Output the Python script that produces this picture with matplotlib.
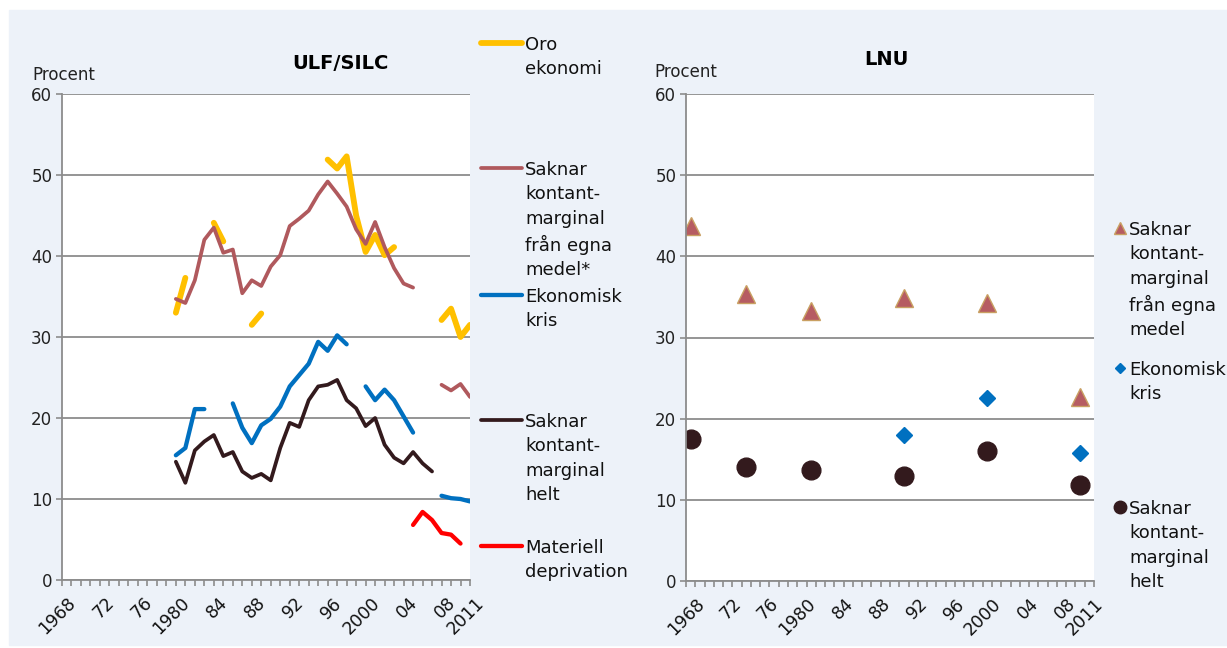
import numpy as np
import matplotlib
matplotlib.use("Agg")
import matplotlib.pyplot as plt
from matplotlib.lines import Line2D
from matplotlib.patches import Rectangle
from matplotlib.transforms import ScaledTranslation

W, H = 1227, 648
nan = np.nan

# ULF/SILC, yearly series 1980-2011 (gaps = no survey)
ulf_years = list(range(1980, 2012))
oro_ekonomi = [33.0, 37.3, nan, nan, 44.1, 41.8, nan, nan, 31.5, 32.9,
               nan, nan, nan, nan, nan, nan, 51.9, 50.8, 52.3, 45.0,
               40.5, 42.6, 40.1, 41.1, nan, nan, nan, nan, 32.1, 33.5,
               30.0, 31.5]
saknar_egna = [34.7, 34.2, 37.0, 42.0, 43.5, 40.4, 40.8, 35.4, 37.0, 36.3,
               38.7, 40.1, 43.7, 44.6, 45.6, 47.6, 49.2, 47.7, 46.1, 43.3,
               41.5, 44.2, 41.1, 38.5, 36.6, 36.1, nan, nan, 24.1, 23.4,
               24.2, 22.6]
ekonomisk_kris = [15.4, 16.3, 21.1, 21.1, nan, nan, 21.8, 18.8, 16.9, 19.1,
                  19.9, 21.4, 23.9, 25.3, 26.7, 29.4, 28.3, 30.2, 29.1, nan,
                  23.9, 22.2, 23.5, 22.2, 20.2, 18.2, nan, nan, 10.4, 10.1,
                  10.0, 9.7]
saknar_helt = [14.6, 12.0, 16.0, 17.1, 17.9, 15.3, 15.8, 13.4, 12.6, 13.1,
               12.3, 16.3, 19.4, 18.9, 22.2, 23.9, 24.1, 24.7, 22.2, 21.2,
               19.0, 20.0, 16.7, 15.1, 14.4, 15.8, 14.4, 13.4, nan, nan,
               nan, nan]
materiell = [nan, nan, nan, nan, nan, nan, nan, nan, nan, nan,
             nan, nan, nan, nan, nan, nan, nan, nan, nan, nan,
             nan, nan, nan, nan, nan, 6.8, 8.4, 7.4, 5.8, 5.6,
             4.5, nan]

# LNU survey years
lnu_years = [1968, 1974, 1981, 1991, 2000, 2010]
lnu_egna = [43.7, 35.3, 33.3, 34.9, 34.2, 22.7]
lnu_kris_years = [1991, 2000, 2010]
lnu_kris = [18.0, 22.5, 15.8]
lnu_helt = [17.5, 14.1, 13.7, 12.9, 16.0, 11.8]

label_years = [1968, 1972, 1976, 1980, 1984, 1988, 1992, 1996, 2000, 2004, 2008, 2011]
label_text = ["1968", "72", "76", "1980", "84", "88", "92", "96", "2000", "04", "08", "2011"]

YELLOW = "#FFC000"
ROSE = "#B0595D"
BLUE = "#0070C0"
DARK = "#331A1D"
RED = "#FF0000"
GRID = "#8C8C8C"
PANEL = "#EDF2F9"

plt.rcParams["font.family"] = ["DejaVu Sans"]


def fx(x):
    return x / W


def fy(y):
    return 1 - y / H


def style_axes(ax):
    ax.set_facecolor("white")
    ax.set_ylim(0, 60)
    ax.set_yticks(range(0, 61, 10))
    ax.yaxis.grid(True, color=GRID, linewidth=1.3)
    ax.set_axisbelow(True)
    for s in ["top", "right"]:
        ax.spines[s].set_visible(False)
    for s in ["left", "bottom"]:
        ax.spines[s].set_color(GRID)
        ax.spines[s].set_linewidth(1.3)
    ax.tick_params(axis="y", length=4, color=GRID, width=1.2, labelsize=12,
                   pad=3, labelcolor="#222222")
    ax.tick_params(axis="x", which="both", length=4, color=GRID, width=1.2,
                   labelsize=12.5, pad=6, labelcolor="#111111")


def rotate_labels(ax, dx):
    for lab in ax.get_xticklabels():
        lab.set_rotation(45)
        lab.set_ha("right")
        lab.set_va("top")
        lab.set_rotation_mode("anchor")
        lab.set_transform(lab.get_transform() +
                          ScaledTranslation(dx / 100, 0, fig.dpi_scale_trans))


fig = plt.figure(figsize=(W / 100, H / 100), dpi=100, facecolor="white")
fig.patches.append(Rectangle((fx(9), fy(645)), fx(W - 9), (645 - 10) / H,
                             transform=fig.transFigure, color=PANEL, zorder=-10))

# ---- left: ULF/SILC ----
ax1 = fig.add_axes([fx(62), fy(580), fx(408), 486 / H])
style_axes(ax1)
ax1.plot(ulf_years, oro_ekonomi, color=YELLOW, lw=4.2, solid_capstyle="round")
ax1.plot(ulf_years, saknar_egna, color=ROSE, lw=2.7, solid_capstyle="round")
ax1.plot(ulf_years, ekonomisk_kris, color=BLUE, lw=3.1, solid_capstyle="round")
ax1.plot(ulf_years, saknar_helt, color=DARK, lw=2.7, solid_capstyle="round")
ax1.plot(ulf_years, materiell, color=RED, lw=3.1, solid_capstyle="round")
ax1.set_xlim(1968, 2011)
ax1.set_xticks(range(1968, 2012), minor=True)
ax1.set_xticks(label_years)
ax1.set_xticklabels(label_text)
rotate_labels(ax1, 5)

fig.text(fx(340), fy(69), "ULF/SILC", ha="center", va="baseline",
         fontsize=14, fontweight="bold")
fig.text(fx(32), fy(80), "Procent", ha="left", va="baseline", fontsize=12,
         color="#222222")

# ---- right: LNU ----
ax2 = fig.add_axes([fx(686), fy(581), fx(408), 487 / H])
style_axes(ax2)
ax2.plot([y - 1968 for y in lnu_years], lnu_egna, ls="none", marker="^", ms=13.5,
         mfc="#B65C62", mec="#C9A062", mew=1.0)
ax2.plot([y - 1968 for y in lnu_kris_years], lnu_kris, ls="none", marker="D",
         ms=8.5, mfc=BLUE, mec=BLUE)
ax2.plot([y - 1968 for y in lnu_years], lnu_helt, ls="none", marker="o", ms=13.5,
         mfc=DARK, mec=DARK)
ax2.set_xlim(-0.5, 43.5)
ax2.set_xticks(np.arange(-0.5, 44, 1.0), minor=True)
ax2.set_xticks([y - 1968 for y in label_years])
ax2.set_xticklabels(label_text)
ax2.tick_params(axis="x", which="major", length=0, pad=10)
rotate_labels(ax2, 5)

fig.text(fx(886), fy(65), "LNU", ha="center", va="baseline",
         fontsize=14, fontweight="bold")
fig.text(fx(654), fy(77), "Procent", ha="left", va="baseline", fontsize=12,
         color="#222222")

# ---- legends ----
LEG_FS = 13
LEG_LS = 1.45

left_entries = [
    (YELLOW, 4.2, 43, "Oro\nekonomi"),
    (ROSE, 2.7, 168, "Saknar\nkontant-\nmarginal\nfrån egna\nmedel*"),
    (BLUE, 3.1, 295, "Ekonomisk\nkris"),
    (DARK, 2.7, 420, "Saknar\nkontant-\nmarginal\nhelt"),
    (RED, 3.1, 546, "Materiell\ndeprivation"),
]
for color, lw, y, label in left_entries:
    fig.add_artist(Line2D([fx(481), fx(522)], [fy(y), fy(y)], color=color, lw=lw,
                          solid_capstyle="round", transform=fig.transFigure))
    fig.text(fx(525), fy(y - 7), label, ha="left", va="top", fontsize=LEG_FS,
             linespacing=LEG_LS, color="#111111")

right_entries = [
    ("^", 8.5, "#B65C62", "#C9A062", 228,
     "Saknar\nkontant-\nmarginal\nfrån egna\nmedel"),
    ("D", 5.5, BLUE, BLUE, 368, "Ekonomisk\nkris"),
    ("o", 9.0, DARK, DARK, 507, "Saknar\nkontant-\nmarginal\nhelt"),
]
for marker, ms, fc, ec, y, label in right_entries:
    fig.add_artist(Line2D([fx(1120)], [fy(y)], ls="none", marker=marker, ms=ms,
                          mfc=fc, mec=ec, transform=fig.transFigure))
    fig.text(fx(1129), fy(y - 7), label, ha="left", va="top", fontsize=LEG_FS,
             linespacing=LEG_LS, color="#111111")

fig.savefig("out.png", dpi=100, facecolor="white")
